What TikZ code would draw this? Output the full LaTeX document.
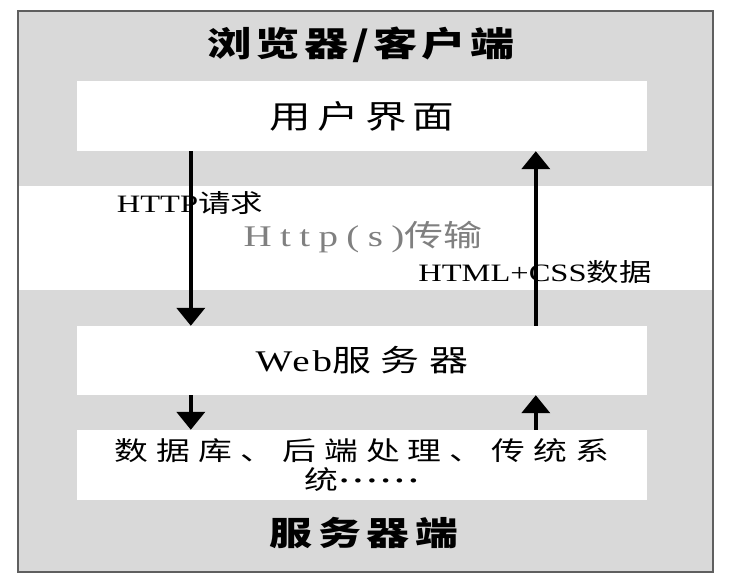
\documentclass[tikz,border=0pt]{standalone}
\usepackage{fontspec}
\setmainfont{Liberation Serif}[FakeStretch=1.3]
\newfontfamily\cjk{Noto Sans CJK SC}[FakeStretch=1.3]
\usetikzlibrary{arrows.meta}
\definecolor{panelgray}{RGB}{217,217,217}
\definecolor{framegray}{RGB}{95,95,95}
\definecolor{textgray}{RGB}{128,128,128}
\newcommand{\sized}[2]{\fontsize{#1}{#2}\selectfont}
\newcommand{\spaced}[1]{\addfontfeatures{LetterSpace=#1}}

\begin{document}
\begin{tikzpicture}[x=1pt,y=-1pt,
    layer/.style={fill=white, minimum width=570pt, minimum height=70pt, inner sep=0pt},
    flow/.style={line width=4pt, -{Triangle[width=28pt,length=18pt]}},
    every node/.append style={inner sep=0pt}]
  \useasboundingbox (0,0) rectangle (742,583);
  % panel and transport band
  \node[fill=panelgray, minimum width=695pt, minimum height=561pt] (frame) at (365.5,291.5) {};
  \node[fill=white, minimum width=693pt, minimum height=104pt] (band) at (365.5,238) {};
  \draw[framegray, line width=1.5pt] (frame.north west) rectangle (frame.south east);
  % client side
  \node[font=\sized{34}{40}\cjk\bfseries\spaced{12}] (client) at (361,45) {浏览器/客户端};
  \node[layer, font=\sized{32}{38}\cjk\spaced{19}] (ui) at (362,116) {用户界面};
  % transport
  \node[font=\sized{25}{30}] (req) at (190,203) {HTTP{\cjk 请求}};
  \node[text=textgray, font=\sized{30}{35}] (http) at (363,237)
    {{\spaced{28}Http(s)}{\cjk 传输}};
  \node[font=\sized{25}{30}] (resp) at (535,272) {HTML+CSS{\cjk 数据}};
  % server side
  \node[layer, minimum height=69pt, font=\sized{30}{35}] (web) at (362,360.5)
    {{\spaced{10}Web}{\cjk\spaced{32}服务器}};
  \node[layer, align=center, font=\sized{26}{29}\cjk\spaced{31}] (back) at (362,465)
    {数据库、后端处理、传统系\\统{\rmfamily\bfseries\spaced{10}······}};
  \node[font=\sized{33}{38}\cjk\bfseries\spaced{18}] (server) at (364,533) {服务器端};
  % arrows
  \draw[flow] ([xshift=114pt]ui.south west) -- ([xshift=114pt]web.north west);
  \draw[flow] ([xshift=459pt]web.north west) -- ([xshift=459pt]ui.south west);
  \draw[flow] ([xshift=114pt]web.south west) -- ([xshift=114pt]back.north west);
  \draw[flow] ([xshift=459pt]back.north west) -- ([xshift=459pt]web.south west);
\end{tikzpicture}
\end{document}
